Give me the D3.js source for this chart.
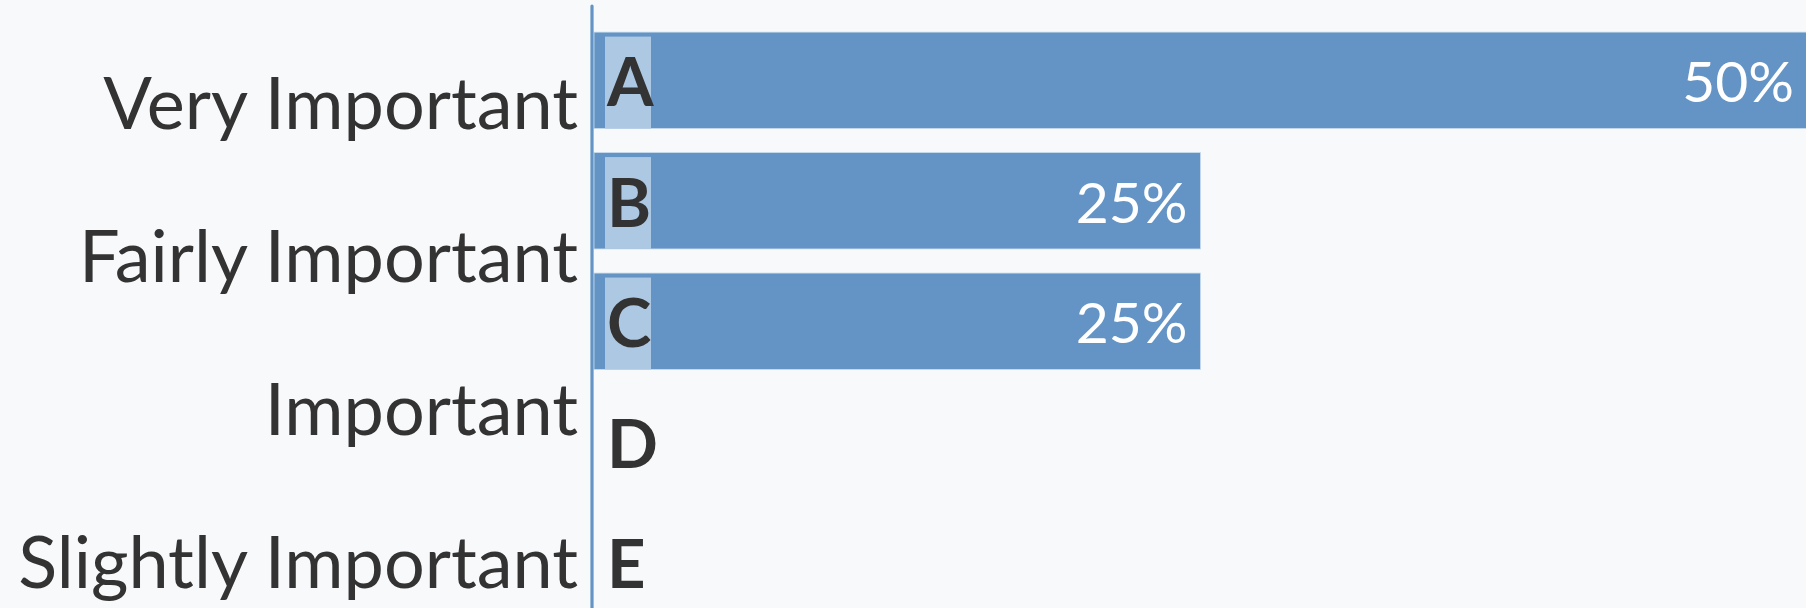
<!DOCTYPE html>
<html>
<head>
<meta charset="utf-8">
<script src="https://cdn.jsdelivr.net/npm/d3@7"></script>
<style>
  html, body { margin: 0; padding: 0; background: #f8f9fb; }
  svg { display: block; }
</style>
</head>
<body>
<svg id="chart" width="1806" height="608"></svg>
<script>
const categories = ["A", "B", "C", "D", "E"];
const values = [50, 25, 25, 0, 0];
const rowLabels = ["Very Important", "Fairly Important", "Important", "Slightly Important"];
const valueSuffix = "%";

const W = 1806, H = 608;
const svg = d3.select("#chart");
svg.append("rect").attr("width", W).attr("height", H).attr("fill", "#f8f9fb");

const axisX = 592;
const x = d3.scaleLinear().domain([0, 50]).range([axisX + 2, 1807]);
const y = d3.scaleBand().domain(categories).range([8, 634.5]).paddingInner(0.2).paddingOuter(0.2);
const yLabel = d3.scaleBand().domain(rowLabels).range([27, 639]);

const data = categories.map((c, i) => ({ cat: c, value: values[i] }));

// bars
svg.append("g").selectAll("rect").data(data.filter(d => d.value > 0)).join("rect")
  .attr("x", x(0))
  .attr("y", d => y(d.cat))
  .attr("width", d => x(d.value) - x(0))
  .attr("height", y.bandwidth())
  .attr("fill", "#6394c5")
  .attr("stroke", "#c9dbee")
  .attr("stroke-width", 0.8);

// letter boxes
svg.append("g").selectAll("rect").data(data.filter(d => d.value > 0)).join("rect")
  .attr("x", x(0) + 11)
  .attr("y", d => y(d.cat) + 4.5)
  .attr("width", 46)
  .attr("height", y.bandwidth() - 4.5)
  .attr("fill", "#adc8e2");

// axis line
const yAxis = d3.axisLeft(y).tickSize(0).tickSizeOuter(0).tickFormat("");
const ag = svg.append("g").attr("transform", `translate(${axisX - 0.5},0)`).call(yAxis);
ag.select(".domain").attr("stroke", "#6394c5").attr("stroke-width", 3.2).attr("stroke-linecap", "round")
  .attr("d", `M0.5,6V${H}`);

// category letters
svg.append("g").selectAll("text").data(data).join("text")
  .attr("x", x(0) + 13)
  .attr("y", d => y(d.cat) + y.bandwidth() / 2 + 26)
  .attr("font-family", "Lato, 'Open Sans', sans-serif")
  .attr("font-weight", 700)
  .attr("font-size", 67)
  .attr("fill", "#333333")
  .text(d => d.cat);

// value labels
svg.append("g").selectAll("text").data(data.filter(d => d.value > 0)).join("text")
  .attr("x", d => x(d.value) - 13)
  .attr("y", d => y(d.cat) + y.bandwidth() / 2 + 22)
  .attr("text-anchor", "end")
  .attr("font-family", "Lato, 'Open Sans', sans-serif")
  .attr("font-size", 57)
  .attr("fill", "#ffffff")
  .text(d => d.value + valueSuffix);

// row labels
svg.append("g").selectAll("text").data(rowLabels).join("text")
  .attr("x", 578)
  .attr("y", d => yLabel(d) + yLabel.bandwidth() / 2 + 25)
  .attr("text-anchor", "end")
  .attr("font-family", "Lato, 'Open Sans', sans-serif")
  .attr("font-size", 72)
  .attr("fill", "#333333")
  .text(d => d);
</script>
</body>
</html>
